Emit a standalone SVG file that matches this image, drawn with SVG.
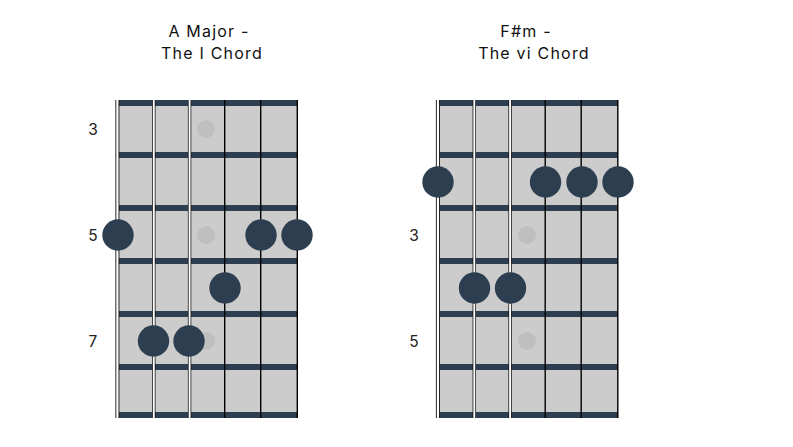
<svg xmlns="http://www.w3.org/2000/svg" width="793" height="447" viewBox="0 0 793 447">
<style>
.board{fill:#cccccc}
.fret{fill:#2d3e50}
.inlay{fill:#bfbfbf}
.dot{fill:#2d3e50}
.sw-out{stroke:#111;stroke-width:3.4}
.sw-in{stroke:#fff;stroke-width:1.9}
.sb{stroke:#000;stroke-width:1.4}
.title{font-family:Inter,"Liberation Sans",sans-serif;font-size:16px;fill:#111;text-anchor:middle;letter-spacing:1.2px}
.lbl{font-family:Inter,"Liberation Sans",sans-serif;font-size:15.5px;fill:#222;text-anchor:middle}
</style>
<defs>
<g id="fb">
<rect class="board" x="119" y="100" width="178.5" height="318"/>
<rect class="fret" x="119" y="100" width="178.5" height="6"/>
<rect class="fret" x="119" y="152" width="178.5" height="6"/>
<rect class="fret" x="119" y="205" width="178.5" height="6"/>
<rect class="fret" x="119" y="258" width="178.5" height="6"/>
<rect class="fret" x="119" y="311" width="178.5" height="6"/>
<rect class="fret" x="119" y="364" width="178.5" height="6"/>
<rect class="fret" x="119" y="412" width="178.5" height="6"/>
</g>
<g id="strings">
<line class="sw-out" x1="117.4" y1="100" x2="117.4" y2="418" style="stroke-width:4"/>
<line class="sw-in" x1="117.4" y1="100" x2="117.4" y2="418" style="stroke-width:2.2"/>
<line class="sw-out" x1="153.8" y1="100" x2="153.8" y2="418"/>
<line class="sw-in" x1="153.8" y1="100" x2="153.8" y2="418"/>
<line class="sw-out" x1="189.6" y1="100" x2="189.6" y2="418"/>
<line class="sw-in" x1="189.6" y1="100" x2="189.6" y2="418"/>
<line class="sb" x1="224.7" y1="100" x2="224.7" y2="418"/>
<line class="sb" x1="260.7" y1="100" x2="260.7" y2="418"/>
<line class="sb" x1="297.3" y1="100" x2="297.3" y2="418"/>
</g>
</defs>

<g id="chord-a-major">
<g id="title-a">
<text class="title" x="209" y="37">A Major -</text>
<text class="title" x="212" y="59">The I Chord</text>
</g>
<g id="fretboard-a">
<use href="#fb"/>
<circle class="inlay" cx="206" cy="129" r="9"/>
<circle class="inlay" cx="206" cy="235" r="9"/>
<circle class="inlay" cx="206" cy="341" r="9"/>
<use href="#strings"/>
</g>
<g id="labels-a">
<text class="lbl" x="93" y="135">3</text>
<text class="lbl" x="93" y="241">5</text>
<text class="lbl" x="93" y="347">7</text>
</g>
<g id="dots-a">
<circle class="dot" cx="118" cy="235" r="15.7"/>
<circle class="dot" cx="261" cy="235" r="15.7"/>
<circle class="dot" cx="297" cy="235" r="15.7"/>
<circle class="dot" cx="225" cy="288" r="15.7"/>
<circle class="dot" cx="153.5" cy="341" r="15.7"/>
<circle class="dot" cx="189" cy="341" r="15.7"/>
</g>
</g>

<g id="chord-f-sharp-minor">
<g id="title-fsm">
<text class="title" x="526" y="37">F#m -</text>
<text class="title" x="534" y="59">The vi Chord</text>
</g>
<g id="fretboard-fsm" transform="translate(320.5,0)">
<use href="#fb"/>
<circle class="inlay" cx="206.5" cy="235" r="9"/>
<circle class="inlay" cx="206.5" cy="341" r="9"/>
<use href="#strings"/>
</g>
<g id="labels-fsm">
<text class="lbl" x="414" y="241">3</text>
<text class="lbl" x="414" y="347">5</text>
</g>
<g id="dots-fsm">
<circle class="dot" cx="438" cy="182" r="15.7"/>
<circle class="dot" cx="545.5" cy="182" r="15.7"/>
<circle class="dot" cx="582" cy="182" r="15.7"/>
<circle class="dot" cx="618" cy="182" r="15.7"/>
<circle class="dot" cx="474.5" cy="288" r="15.7"/>
<circle class="dot" cx="510.5" cy="288" r="15.7"/>
</g>
</g>
</svg>
